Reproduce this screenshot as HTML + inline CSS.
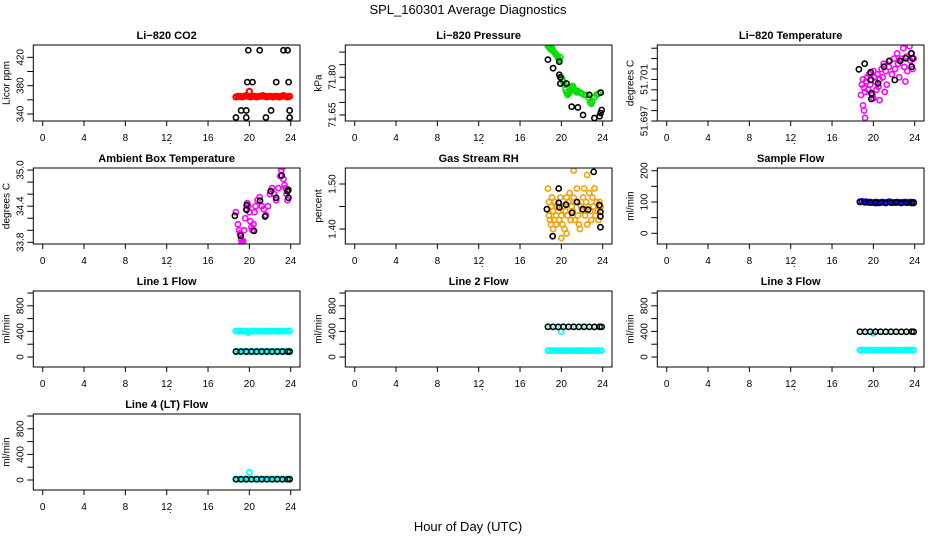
<!DOCTYPE html>
<html><head><meta charset="utf-8"><style>
html,body{margin:0;padding:0;background:#fff;}
svg{display:block;font-family:"Liberation Sans",sans-serif;}
</style></head><body>
<svg id="chart" width="936" height="540" viewBox="0 0 936 540" xmlns="http://www.w3.org/2000/svg">
<rect width="936" height="540" fill="#fff"/>
<text x="468" y="14" font-size="13" text-anchor="middle">SPL_160301  Average Diagnostics</text>
<text x="468" y="531" font-size="13" text-anchor="middle">Hour of Day (UTC)</text>
<g id="panels"></g>
</svg>
<script>
const TD=[18.7,18.9,19.1,19.3,19.5,19.7,19.9,20.1,20.3,20.5,20.7,20.9,21.1,21.3,21.5,21.7,21.9,22.1,22.3,22.5,22.7,22.9,23.1,23.3,23.5,23.7,23.9];
const TB=[18.7,19.2,19.7,20.2,20.7,21.2,21.7,22.2,22.7,23.2,23.7,23.9];
const xTicks=[0,4,8,12,16,20,24];

const co2RedT=TD.concat([20.0]);
const co2RedV=[364,365,365,364,365,366,365,364,365,365,364,365,365,366,365,364,365,365,364,365,365,364,365,366,365,364,365,372];
const co2BlackT=[18.7,19.2,19.7,19.7,19.8,20.3,19.9,21.0,21.6,22.1,22.6,23.3,23.7,23.8,23.9,23.9];
const co2BlackV=[335,345,345,335,385,385,430,430,335,345,385,430,430,385,345,335];

const presGreenT=[18.7,18.8,18.9,19.0,19.1,19.2,19.3,19.4,19.5,19.6,19.7,19.8,19.9,20.0,20.1,20.2,20.3,20.4,20.5,20.6,20.7,20.8,20.9,21.0,21.1,21.2,21.3,21.4,21.5,21.6,21.8,22.0,22.2,22.4,22.6,22.8,22.9,23.0,23.2,23.4,23.6,23.8];
const presGreenV=[71.925,71.92,71.915,71.91,71.915,71.905,71.9,71.895,71.89,71.885,71.875,71.87,71.88,71.80,71.79,71.78,71.77,71.75,71.74,71.73,71.735,71.74,71.75,71.76,71.765,71.755,71.75,71.745,71.74,71.745,71.74,71.735,71.73,71.73,71.72,71.70,71.695,71.705,71.72,71.73,71.735,71.74];
const presBlackT=[18.7,19.2,19.8,19.8,19.9,19.9,20.5,21.0,21.6,22.1,22.7,23.2,23.7,23.8,23.9,23.8];
const presBlackV=[71.87,71.836,71.862,71.81,71.80,71.775,71.775,71.683,71.68,71.65,71.73,71.638,71.645,71.658,71.67,71.739];

const tempMagT=[18.8,18.9,19.0,19.1,19.2,19.2,19.3,19.4,19.5,19.6,19.7,19.8,19.9,20.0,20.1,20.2,20.3,20.4,20.5,20.6,20.8,20.9,21.0,21.2,21.3,21.5,21.6,21.8,22.0,22.1,22.3,22.4,22.5,22.7,22.9,23.0,23.1,23.2,23.3,23.5,23.6,23.7,23.8,23.9,19.0,19.1,20.0,20.6,21.1];
const tempMagV=[51.6995,51.7005,51.7010,51.7002,51.6998,51.6973,51.7008,51.7012,51.7000,51.7015,51.7005,51.7010,51.6995,51.7018,51.7012,51.7008,51.7000,51.7015,51.7003,51.7010,51.7020,51.7012,51.7025,51.7018,51.7005,51.7022,51.7028,51.7015,51.7030,51.7020,51.7035,51.7025,51.7012,51.7030,51.7040,51.7022,51.7008,51.7032,51.7018,51.7042,51.7028,51.7035,51.7020,51.7030,51.6985,51.6980,51.6992,51.6990,51.6998];
const tempBlackT=[18.6,19.16,19.74,19.74,20.45,19.81,19.81,21.03,21.52,22.07,22.59,23.13,23.68,23.78,23.71];
const tempBlackV=[51.70197,51.70251,51.70168,51.70094,51.70062,51.69966,51.69912,51.70222,51.70277,51.70094,51.70277,51.70303,51.70351,51.70303,51.70222];

const ambMagT=[18.7,18.9,19.0,19.1,19.2,19.25,19.3,19.4,19.5,19.6,19.7,19.8,19.9,20.0,20.1,20.2,20.3,20.4,20.5,20.6,20.8,21.0,21.2,21.4,21.6,21.8,22.0,22.2,22.4,22.6,22.8,23.0,23.1,23.2,23.3,23.4,23.5,23.6,23.7];
const ambMagV=[34.3,34.1,34.0,33.95,33.85,33.78,33.8,33.82,34.0,34.2,34.35,34.45,34.4,34.3,34.15,34.05,34.0,34.1,34.3,34.4,34.5,34.55,34.4,34.35,34.25,34.4,34.6,34.7,34.6,34.5,34.7,34.9,35.0,35.05,34.85,34.75,34.7,34.6,34.5];
const ambBlackT=[18.6,19.16,19.74,19.74,20.45,21.03,21.52,22.07,22.59,23.13,23.68,23.78,23.78];
const ambBlackV=[34.24,33.91,34.42,34.34,33.99,34.49,34.23,34.65,34.54,34.91,34.65,34.54,34.67];

const rhT=[18.7,18.8,18.8,18.9,19.0,19.0,19.1,19.2,19.2,19.3,19.4,19.5,19.5,19.6,19.7,19.8,19.9,20.0,20.0,20.1,20.2,20.3,20.4,20.5,20.5,20.6,20.7,20.8,20.9,21.0,21.1,21.2,21.2,21.3,21.4,21.5,21.6,21.7,21.8,21.9,22.0,22.1,22.2,22.3,22.4,22.5,22.5,22.6,22.7,22.8,22.9,23.0,23.1,23.2,23.3,23.4,23.5,23.6,23.7,23.8];
const rhV=[1.49,1.43,1.46,1.42,1.45,1.41,1.47,1.44,1.40,1.42,1.46,1.43,1.41,1.45,1.44,1.42,1.47,1.38,1.43,1.41,1.45,1.40,1.44,1.39,1.47,1.43,1.46,1.48,1.42,1.45,1.44,1.53,1.47,1.42,1.46,1.49,1.43,1.41,1.40,1.45,1.44,1.47,1.49,1.43,1.46,1.52,1.41,1.45,1.48,1.44,1.42,1.47,1.45,1.49,1.43,1.46,1.44,1.42,1.46,1.45];
const rhBlackT=[18.6,19.16,19.74,19.74,19.81,20.45,21.03,21.52,22.07,22.59,23.13,23.68,23.78,23.78,23.78];
const rhBlackV=[1.444,1.384,1.490,1.458,1.448,1.454,1.436,1.460,1.444,1.443,1.527,1.453,1.438,1.428,1.404];

const sampleBlueV=[101,102,100,101,99,100,98,99,100,97,99,100,98,99,101,100,98,99,100,99,98,99,100,98,99,100,99];
const sampleBlackV=[100,99,98,97,98,97,98,98,97,98,97,97];

const line1CyanHighV=[405,404,406,405,404,405,380,406,405,404,405,406,405,404,405,403,404,405,406,405,404,398,405,404,405,406,405];
const line1CyanLowV=[88,87,88,89,88,87,88,88,87,88,89,88,88,87,88,88,89,88,87,88,88,87,88,88,89,88,88];
const line1BlackV=[85,84,85,85,84,85,85,84,85,85,84,85];
const line2CyanV=[100,99,100,101,100,99,100,100,99,100,101,100,100,99,100,100,101,100,99,100,100,99,100,100,101,100,100];
const line2BlackV=[472,471,470,472,471,472,471,472,471,470,472,471];
const line2ExtraT=[20.0]; const line2ExtraV=[395];
const line3CyanV=[108,107,108,109,108,107,108,108,107,108,109,108,108,107,108,108,109,108,107,108,108,107,108,108,109,108,108];
const line3BlackV=[395,394,395,396,395,394,395,395,394,395,396,395];
const line3ExtraT=[20.0]; const line3ExtraV=[370];
const line4CyanV=[15,14,15,16,15,14,15,15,14,15,16,15,15,14,15,15,16,15,14,15,15,14,15,15,16,15,15];
const line4BlackV=[12,12,13,12,12,13,12,12,13,12,12,12];
const line4ExtraT=[20.0]; const line4ExtraV=[120];

const flowTicks=[0,200,400,600,800,1000], flowLabels=[0,400,800];
const panels=[
 {name:'li820-co2',title:'Li\u2212820 CO2',yt:'Licor ppm',r:0,c:0,v0:340,p0:69,s:0.7083,ticks:[340,360,380,400,420],labs:[340,380,420],dec:0,
  series:[[co2RedT,co2RedV,'#ff0000'],[co2BlackT,co2BlackV,'#000']]},
 {name:'li820-pressure',title:'Li\u2212820 Pressure',yt:'kPa',r:0,c:1,v0:71.65,p0:70,s:251.6,ticks:[71.65,71.70,71.75,71.80,71.85,71.90],labs:[71.65,71.80],dec:2,
  series:[[presGreenT,presGreenV,'#00e000'],[presBlackT,presBlackV,'#000']]},
 {name:'li820-temperature',title:'Li\u2212820 Temperature',yt:'degrees C',r:0,c:2,v0:51.697,p0:76,s:10400,ticks:[51.697,51.698,51.699,51.700,51.701,51.702,51.703,51.704],labs:[51.697,51.701],dec:3,
  series:[[tempMagT,tempMagV,'#ff00ff'],[tempBlackT,tempBlackV,'#000']]},
 {name:'ambient-box-temperature',title:'Ambient Box Temperature',yt:'degrees C',r:1,c:0,v0:33.8,p0:74.3,s:60.2,ticks:[33.8,34.0,34.2,34.4,34.6,34.8,35.0],labs:[33.8,34.4,35.0],dec:1,
  series:[[ambMagT,ambMagV,'#ff00ff'],[ambBlackT,ambBlackV,'#000']]},
 {name:'gas-stream-rh',title:'Gas Stream RH',yt:'percent',r:1,c:1,v0:1.40,p0:61,s:450,ticks:[1.40,1.45,1.50],labs:[1.40,1.50],dec:2,
  series:[[rhT,rhV,'#f4a000'],[rhBlackT,rhBlackV,'#000']]},
 {name:'sample-flow',title:'Sample Flow',yt:'ml/min',r:1,c:2,v0:0,p0:65.3,s:0.313,ticks:[0,50,100,150,200],labs:[0,100,200],dec:0,
  series:[[TD,sampleBlueV,'#0000ff'],[TB,sampleBlackV,'#000']]},
 {name:'line-1-flow',title:'Line 1 Flow',yt:'ml/min',r:2,c:0,v0:0,p0:66,s:0.064,ticks:flowTicks,labs:flowLabels,dec:0,
  series:[[TD,line1CyanHighV,'#00ffff'],[TD,line1CyanLowV,'#00ffff'],[TB,line1BlackV,'#000']]},
 {name:'line-2-flow',title:'Line 2 Flow',yt:'ml/min',r:2,c:1,v0:0,p0:66,s:0.064,ticks:flowTicks,labs:flowLabels,dec:0,
  series:[[TD,line2CyanV,'#00ffff'],[line2ExtraT,line2ExtraV,'#00ffff'],[TB,line2BlackV,'#000']]},
 {name:'line-3-flow',title:'Line 3 Flow',yt:'ml/min',r:2,c:2,v0:0,p0:66,s:0.064,ticks:flowTicks,labs:flowLabels,dec:0,
  series:[[TD,line3CyanV,'#00ffff'],[line3ExtraT,line3ExtraV,'#00ffff'],[TB,line3BlackV,'#000']]},
 {name:'line-4-lt-flow',title:'Line 4 (LT) Flow',yt:'ml/min',r:3,c:0,v0:0,p0:66,s:0.064,ticks:flowTicks,labs:flowLabels,dec:0,
  series:[[TD,line4CyanV,'#00ffff'],[line4ExtraT,line4ExtraV,'#00ffff'],[TB,line4BlackV,'#000']]}
];
const NS='http://www.w3.org/2000/svg';
const root=document.getElementById('panels');
function mk(tag,attrs,parent){const e=document.createElementNS(NS,tag);for(const k in attrs)e.setAttribute(k,attrs[k]);parent.appendChild(e);return e;}
panels.forEach(p=>{
  const L=33.3+312*p.c, R=300+312*p.c, T=45+123*p.r, B=121+123*p.r;
  const x=t=>42.7+312*p.c+t*10.333;
  const y=v=>T+p.p0-(v-p.v0)*p.s;
  const isFlow=p.name.indexOf('line-')===0;
  const g=mk('g',{},root);
  
  
  const tt=mk('text',{x:(L+R)/2,y:T-6,'font-size':11,'font-weight':'bold','text-anchor':'middle'},g);
  tt.textContent=p.title;
  
  
  const yl=mk('text',{transform:`translate(${L-24},${(T+B)/2}) rotate(-90)`,'font-size':10,'text-anchor':'middle'},g);
  yl.textContent=p.yt;
  
  
  const clip='clip'+p.r+p.c;
  const cp=mk('clipPath',{id:clip},g); mk('rect',{x:L,y:T,width:R-L,height:B-T},cp);
  const pg=mk('g',{'clip-path':`url(#${clip})`},g);
  p.series.forEach((s,si)=>{
    s[0].forEach((t,i)=>{
      const c=mk('circle',{cx:x(t),cy:y(s[1][i]),r:2.6,fill:'none',stroke:s[2],'stroke-width':(s[2]==='#ff0000'?2:1.6)},pg);
      
      
      if(isFlow&&s[2]==='#000'){
        const d=mk('rect',{x:x(t)-0.7,y:y(s[1][i])-0.7,width:1.4,height:1.4,fill:'#00ffff'},pg);
        
        
      }
    });
  });
  const box=mk('rect',{x:L,y:T,width:R-L,height:B-T,fill:'none',stroke:'#000','stroke-width':1},g);
  
  
  xTicks.forEach(t=>{
    mk('line',{x1:x(t),x2:x(t),y1:B,y2:B+5,stroke:'#000'},g);
    const lb=mk('text',{x:x(t),y:B+20,'font-size':10,'text-anchor':'middle'},g);
    lb.textContent=t;
    
    
  });
  p.ticks.forEach(v=>{
    mk('line',{x1:L-6,x2:L,y1:y(v),y2:y(v),stroke:'#000'},g);
  });
  p.labs.forEach(v=>{
    const lb=mk('text',{transform:`translate(${L-10},${y(v)}) rotate(-90)`,'font-size':10,'text-anchor':'middle'},g);
    lb.textContent=v.toFixed(p.dec);
    
    
  });
  mk('rect',{x:x(12.3),y:B+22,width:1,height:1,fill:'#000'},g);
});
</script>
</body></html>
